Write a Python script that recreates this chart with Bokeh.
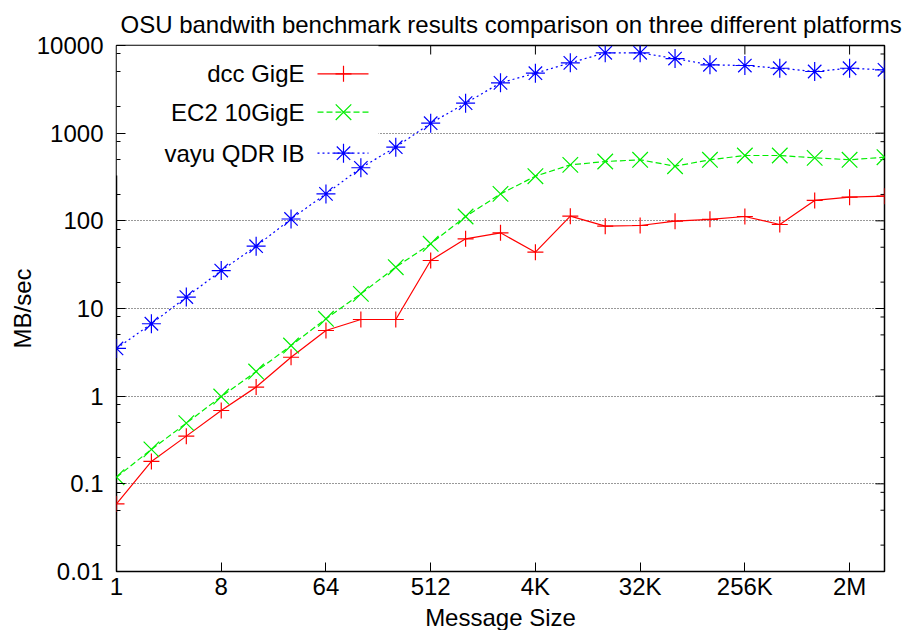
from bokeh.plotting import figure
from bokeh.models import Range1d, LinearScale, FixedTicker
from bokeh.core.properties import value
from bokeh.embed import file_html
from bokeh.resources import INLINE

# ---------------- data ----------------
msg_size = [1, 2, 4, 8, 16, 32, 64, 128, 256, 512, 1024, 2048, 4096, 8192,
            16384, 32768, 65536, 131072, 262144, 524288, 1048576, 2097152, 4194304]
dcc_gige = [0.059, 0.18, 0.35, 0.686, 1.27, 2.78, 5.61, 7.49, 7.49, 35.3, 62.4, 73,
            43.9, 113, 86.9, 88.5, 99, 104, 112, 90.8, 171, 186, 191]
ec2_10gige = [0.119, 0.247, 0.492, 0.99, 1.91, 3.78, 7.63, 14.7, 29.6, 54.7, 112, 203,
              323, 435, 475, 497, 420, 497, 556, 556, 523, 497, 532]
vayu_qdr_ib = [3.5, 6.7, 13.5, 27.1, 51.4, 105, 203, 403, 692, 1300, 2200, 3750,
               4830, 6340, 8250, 8250, 7100, 6020, 5910, 5500, 5050, 5500, 5280]

series_names = ["dcc GigE", "EC2 10GigE", "vayu QDR IB"]

x_tick_values = [1, 8, 64, 512, 4096, 32768, 262144, 2097152]
x_tick_labels = ["1", "8", "64", "512", "4K", "32K", "256K", "2M"]
y_tick_values = [0.01, 0.1, 1, 10, 100, 1000, 10000]
y_tick_labels = ["0.01", "0.1", "1", "10", "100", "1000", "10000"]
y_minor_values = [0.02, 0.05, 0.08, 0.2, 0.5, 0.8, 2, 5, 8, 20, 50, 80,
                  200, 500, 800, 2000, 5000, 8000]

# ---------------- style ----------------
FONT = "Liberation Sans"
FS = "24px"
FW, FH = 768, 526
colors = ["#ff0000", "#00ee00", "#0000ff"]
dashes = ["solid", "6 3", "2 3"]
markers = ["cross", "x", "asterisk"]
msizes = [16, 22, 19]
MAJ, MIN = 9, 4

p = figure(output_backend="svg", toolbar_location=None,
           x_axis_type="log", y_axis_type="log",
           x_range=Range1d(msg_size[0], msg_size[-1]),
           y_range=Range1d(y_tick_values[0], y_tick_values[-1]),
           frame_width=FW, frame_height=FH,
           min_border_left=116, min_border_right=27,
           min_border_top=45, min_border_bottom=50,
           x_axis_label="Message Size", y_axis_label="MB/sec")

p.title.text = "OSU bandwith benchmark results comparison on three different platforms"
p.title.align = "left"
p.title.offset = 4
p.title.text_font = FONT
p.title.text_font_size = FS
p.title.text_font_style = "normal"
p.title.text_color = "black"
p.title.standoff = 15

p.outline_line_color = "black"
p.outline_line_width = 1.5
p.background_fill_color = "white"
p.border_fill_color = "white"

# frame-pixel coordinate system (key and mirrored ticks)
p.extra_x_ranges = {"lx": Range1d(0, FW)}
p.extra_y_ranges = {"ly": Range1d(0, FH)}
p.extra_x_scales = {"lx": LinearScale()}
p.extra_y_scales = {"ly": LinearScale()}


def style_axis(ax):
    ax.axis_line_color = None
    ax.major_tick_in = MAJ
    ax.major_tick_out = 0
    ax.minor_tick_in = MIN
    ax.minor_tick_out = 0
    ax.major_tick_line_color = "black"
    ax.minor_tick_line_color = "black"
    ax.major_label_text_font = FONT
    ax.major_label_text_font_size = FS
    ax.major_label_text_color = "black"
    ax.axis_label_text_font = FONT
    ax.axis_label_text_font_size = FS
    ax.axis_label_text_font_style = "normal"
    ax.axis_label_text_color = "black"


xa = p.xaxis[0]
xa.ticker = FixedTicker(ticks=x_tick_values, minor_ticks=[])
xa.major_label_overrides = dict(zip(x_tick_values, x_tick_labels))
style_axis(xa)
xa.major_label_standoff = 1
xa.axis_label_standoff = 1

ya = p.yaxis[0]
ya.ticker = FixedTicker(ticks=y_tick_values, minor_ticks=y_minor_values)
ya.major_label_overrides = dict(zip(y_tick_values, y_tick_labels))
style_axis(ya)
ya.major_label_standoff = 13
ya.axis_label_standoff = -2

# mirrored ticks on top and right border
p.segment(x0=x_tick_values, y0=[FH] * len(x_tick_values),
          x1=x_tick_values, y1=[FH - MAJ] * len(x_tick_values),
          y_range_name="ly", line_color="black", line_width=1)
p.segment(x0=[FW] * len(y_tick_values), y0=y_tick_values,
          x1=[FW - MAJ] * len(y_tick_values), y1=y_tick_values,
          x_range_name="lx", line_color="black", line_width=1)
p.segment(x0=[FW] * len(y_minor_values), y0=y_minor_values,
          x1=[FW - MIN] * len(y_minor_values), y1=y_minor_values,
          x_range_name="lx", line_color="black", line_width=1)

p.xgrid.visible = False
p.ygrid.grid_line_color = "#333333"
p.ygrid.grid_line_dash = "1 2"
p.ygrid.grid_line_width = 1

# opaque key box (covers grid)
p.quad(left=[0], right=[262], top=[FH], bottom=[396],
       x_range_name="lx", y_range_name="ly",
       fill_color="white", line_color=None)

# data
for ys, c, d, m, s in zip([dcc_gige, ec2_10gige, vayu_qdr_ib], colors, dashes, markers, msizes):
    p.line(msg_size, ys, line_color=c, line_dash=d, line_width=1.2)
    p.scatter(msg_size, ys, marker=m, size=s, line_color=c, line_width=1.2, fill_color=None)

# key (text left, sample right like gnuplot)
rows_y = [497.7, 459.3, 418.3]
for name, ry, c, d, m, s in zip(series_names, rows_y, colors, dashes, markers, msizes):
    p.line([201, 252], [ry, ry], x_range_name="lx", y_range_name="ly",
           line_color=c, line_dash=d, line_width=1.2)
    p.scatter([227], [ry], x_range_name="lx", y_range_name="ly",
              marker=m, size=s, line_color=c, line_width=1.2, fill_color=None)
p.text(x=[188] * 3, y=rows_y, text=series_names, x_range_name="lx", y_range_name="ly",
       text_align="right", text_baseline="middle",
       text_font=value(FONT), text_font_size=FS, text_color="black")

open("out.html", "w").write(file_html(p, INLINE))
